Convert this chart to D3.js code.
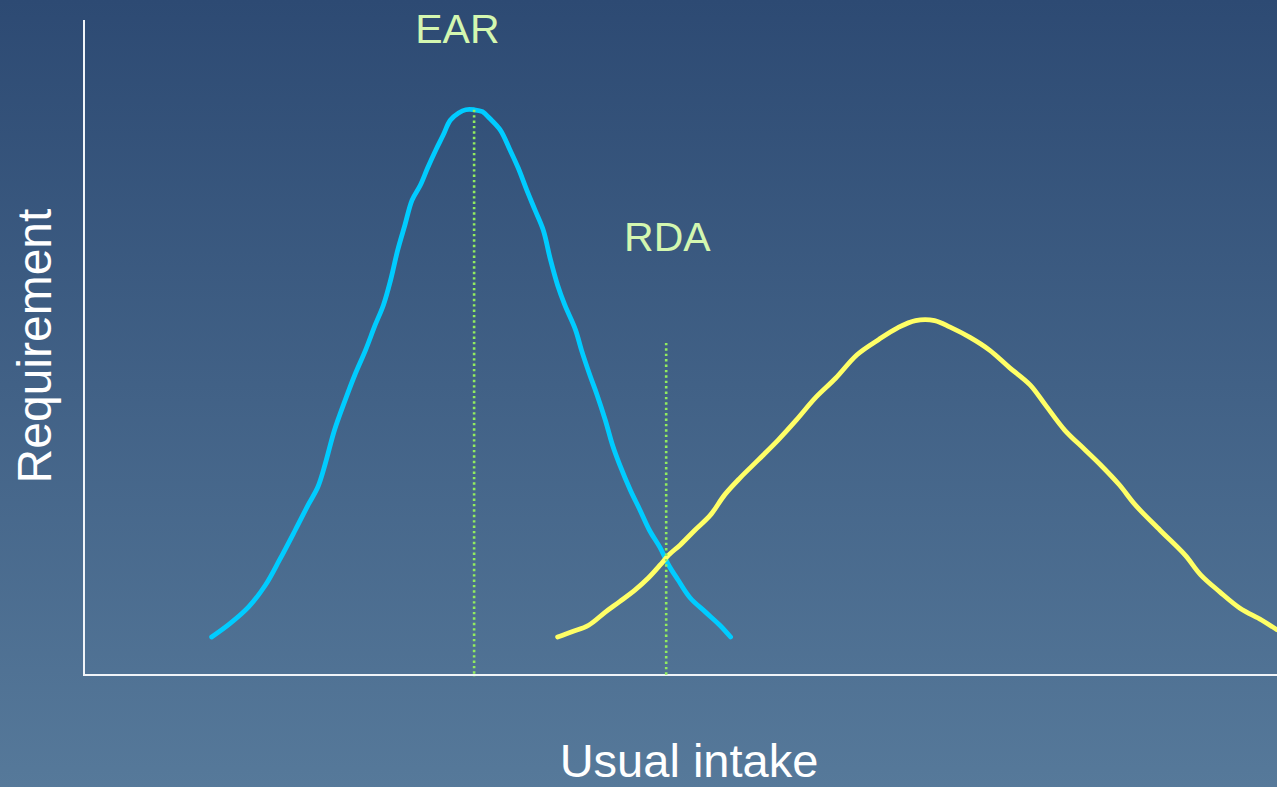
<!DOCTYPE html>
<meta charset="utf-8">
<style>
body { margin: 0; overflow: hidden; font-family: "Liberation Sans", Arial, sans-serif; }
.axis-line { stroke: #f0f4f8; stroke-width: 2; }
.curve { fill: none; stroke-width: 4.8; stroke-linecap: round; stroke-linejoin: round; }
.marker { stroke: #92ec5e; stroke-width: 2.6; stroke-dasharray: 2.4 3; }
.label { fill: #d4f7b0; font-size: 41px; }
.title { fill: #ffffff; }
</style>
<body>
<script src="https://cdn.jsdelivr.net/npm/d3@7"></script>
<script>
// requirement distribution (blue), intake units 0-100, height 0-100
var reqX = [10.7, 12.2, 13.8, 15.2, 16.4, 17.7, 18.8, 19.6, 20.2, 21.0, 21.9, 22.7, 23.6, 24.4, 25.1, 25.7,
  26.3, 26.9, 27.5, 28.2, 28.8, 29.5, 30.1, 30.7, 31.4, 32.0, 32.7, 33.4, 34.0, 34.9, 35.7, 36.4, 37.1,
  37.8, 38.5, 39.1, 39.7, 40.3, 41.2, 41.7, 42.4, 43.0, 43.7, 44.3, 44.9, 45.8, 46.6, 47.4, 48.3, 49.0,
  49.8, 50.8, 52.1, 53.3, 54.2];
var reqY = [5.8, 7.8, 10.4, 13.7, 17.6, 22.1, 26.0, 28.7, 32.1, 37.4, 42.0, 45.8, 49.6, 53.4, 56.5, 60.3,
  64.9, 68.7, 72.5, 74.8, 77.4, 80.2, 82.4, 84.7, 85.8, 86.3, 86.3, 86.0, 85.0, 83.2, 80.2, 77.4, 74.1,
  71.0, 67.9, 63.4, 59.5, 56.5, 52.7, 49.6, 45.8, 42.8, 38.9, 35.1, 32.1, 28.2, 25.2, 22.1, 19.4, 16.8,
  14.5, 11.8, 9.6, 7.6, 5.8];

// intake distribution (yellow)
var intakeX = [39.7, 40.9, 42.3, 43.7, 44.9, 46.2, 47.3, 48.3, 49.0, 50.0, 51.2, 52.5, 53.7, 55.0, 56.5,
  58.2, 59.7, 61.3, 63.0, 64.8, 66.6, 68.2, 69.7, 71.3, 72.6, 74.3, 75.9, 77.6, 79.3, 80.6, 82.2, 83.9,
  85.2, 86.8, 88.1, 90.2, 92.3, 93.6, 95.2, 96.9, 98.7, 100.0];
var intakeY = [5.8, 6.6, 7.6, 9.6, 11.2, 13.0, 14.8, 16.8, 18.3, 19.9, 22.1, 24.4, 27.5, 30.1, 32.8,
  35.9, 38.9, 42.3, 45.3, 48.9, 51.2, 53.0, 54.1, 54.1, 53.1, 51.5, 49.6, 46.9, 44.3, 41.2, 37.4, 34.4,
  32.1, 29.0, 26.0, 22.1, 18.3, 15.3, 12.7, 10.2, 8.4, 6.9];

var markerNames = ["EAR", "RDA"];
var markerX = [32.7, 48.8];
var markerTop = [86.3, 50.7];
var markerLabelX = [31.3, 48.9];
var markerLabelY = [96.5, 64.7];

var width = 1277, height = 787;
var margin = {left: 84, top: 20, right: 0, bottom: 112};

var x = d3.scaleLinear().domain([0, 100]).range([margin.left, width - margin.right]);
var y = d3.scaleLinear().domain([0, 100]).range([height - margin.bottom, margin.top]);

var svg = d3.select("body").append("svg")
    .attr("width", width)
    .attr("height", height);

var grad = svg.append("defs").append("linearGradient")
    .attr("id", "bg")
    .attr("x1", 0).attr("y1", 0).attr("x2", 0).attr("y2", 1);
grad.append("stop").attr("offset", "0%").attr("stop-color", "#2d4a73");
grad.append("stop").attr("offset", "100%").attr("stop-color", "#56799a");

svg.append("rect")
    .attr("width", width)
    .attr("height", height)
    .attr("fill", "url(#bg)");

// axes: plain lines, no ticks
svg.append("line").attr("class", "axis-line")
    .attr("x1", x(0)).attr("x2", x(0))
    .attr("y1", y(100)).attr("y2", y(0) + 1);
svg.append("line").attr("class", "axis-line")
    .attr("x1", x(0) - 1).attr("x2", x(100))
    .attr("y1", y(0)).attr("y2", y(0));

var line = d3.line()
    .x(function(d) { return x(d[0]); })
    .y(function(d) { return y(d[1]); })
    .curve(d3.curveCatmullRom);

svg.append("path").attr("class", "curve")
    .datum(d3.zip(reqX, reqY))
    .attr("stroke", "#00ccff")
    .attr("d", line);

svg.append("path").attr("class", "curve")
    .datum(d3.zip(intakeX, intakeY))
    .attr("stroke", "#ffff66")
    .attr("d", line);

svg.selectAll(".marker")
    .data(markerX)
  .enter().append("line")
    .attr("class", "marker")
    .attr("x1", function(d) { return x(d); })
    .attr("x2", function(d) { return x(d); })
    .attr("y1", function(d, i) { return y(markerTop[i]); })
    .attr("y2", y(0) + 2);

svg.selectAll(".label")
    .data(markerNames)
  .enter().append("text")
    .attr("class", "label")
    .attr("x", function(d, i) { return x(markerLabelX[i]); })
    .attr("y", function(d, i) { return y(markerLabelY[i]); })
    .attr("text-anchor", "middle")
    .text(function(d) { return d; });

svg.append("text").attr("class", "title")
    .attr("x", 689)
    .attr("y", 777)
    .attr("text-anchor", "middle")
    .style("font-size", "47px")
    .text("Usual intake");

svg.append("text").attr("class", "title")
    .attr("transform", "translate(51,346) rotate(-90)")
    .attr("text-anchor", "middle")
    .style("font-size", "48px")
    .text("Requirement");
</script>
